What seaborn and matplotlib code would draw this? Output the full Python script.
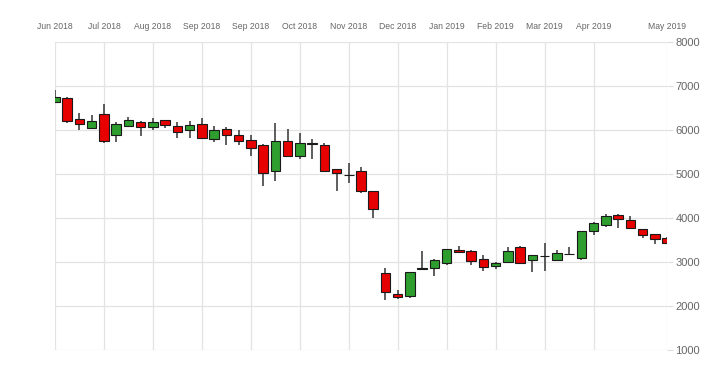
import numpy as np
import pandas as pd
import matplotlib
matplotlib.use("Agg")
import matplotlib.pyplot as plt
import seaborn as sns

# weekly OHLC, Jun 2018 - May 2019
weeks = list(range(51))
opens = [6650, 6740, 6265, 6050, 6365, 5900, 6105, 6195, 6065, 6225,
         6090, 6005, 6135, 5810, 6030, 5895, 5775, 5660, 5075, 5755,
         5425, 5700, 5660, 5110, 4990, 5070, 4615, 2750, 2280, 2240,
         2845, 2880, 2980, 3290, 3265, 3070, 2920, 3015, 3340, 3045,
         3142, 3050, 3182, 3090, 3720, 3855, 4075, 3960, 3750, 3645, 3560]
closes = [6750, 6220, 6135, 6220, 5750, 6135, 6240, 6080, 6180, 6120,
          5970, 6115, 5825, 6005, 5885, 5755, 5590, 5030, 5755, 5410,
          5705, 5712, 5080, 5030, 4982, 4620, 4205, 2320, 2210, 2785,
          2862, 3045, 3300, 3230, 3035, 2900, 2990, 3255, 2995, 3165,
          3152, 3220, 3192, 3710, 3900, 4060, 3985, 3775, 3630, 3525, 3445]
highs = [6920, 6760, 6390, 6350, 6600, 6180, 6300, 6210, 6290, 6240,
         6180, 6210, 6275, 6090, 6075, 6005, 5890, 5680, 6175, 6025,
         5930, 5800, 5710, 5120, 5250, 5175, 4620, 2865, 2370, 2790,
         3260, 3080, 3310, 3365, 3270, 3155, 3000, 3340, 3365, 3170,
         3445, 3280, 3355, 3720, 3905, 4090, 4090, 4045, 3760, 3650, 3570]
lows = [6640, 6160, 6010, 6040, 5720, 5730, 6070, 5880, 6010, 6060,
        5820, 5830, 5810, 5730, 5660, 5660, 5420, 4730, 4855, 5385,
        5340, 5355, 5070, 4630, 4795, 4570, 4010, 2140, 2170, 2200,
        2830, 2690, 2940, 3220, 2940, 2810, 2840, 2980, 2990, 2780,
        2800, 3020, 3170, 3050, 3630, 3810, 3785, 3765, 3545, 3410, 3435]

tick_pos = [0, 4, 8, 12, 16, 20, 24, 28, 32, 36, 40, 44, 50]
tick_labels = ["Jun 2018", "Jul 2018", "Aug 2018", "Sep 2018", "Sep 2018",
               "Oct 2018", "Nov 2018", "Dec 2018", "Jan 2019", "Feb 2019",
               "Mar 2019", "Apr 2019", "May 2019"]
y_ticks = [1000, 2000, 3000, 4000, 5000, 6000, 7000, 8000]

df = pd.DataFrame({"week": weeks, "open": opens, "close": closes,
                   "high": highs, "low": lows})
df["up"] = df["close"] >= df["open"]
df["bottom"] = df[["open", "close"]].min(axis=1)
df["body"] = (df["close"] - df["open"]).abs().clip(lower=4)

sns.set_theme(style="whitegrid")
plt.rcParams["font.family"] = ["Liberation Sans", "DejaVu Sans"]

fig = plt.figure(figsize=(7.24, 3.79), dpi=100)
ax = fig.add_axes([55 / 724, 1 - 350.3 / 379, 612 / 724, 308 / 379])

ax.vlines(df["week"], df["low"], df["high"], color="#333333", lw=1.1, zorder=2)
colors = np.where(df["up"], "#2e9e2e", "#e60000")
ax.bar(df["week"], df["body"], bottom=df["bottom"], width=0.78,
       color=colors, edgecolor="#1a1a1a", linewidth=0.8, zorder=3)

ax.set_xlim(0, 50)
ax.set_ylim(1000, 8000)
ax.set_xticks(tick_pos)
ax.set_xticklabels(tick_labels)
ax.set_yticks(y_ticks)
ax.xaxis.tick_top()
ax.yaxis.tick_right()
ax.tick_params(axis="x", labelsize=6.2, colors="#666666", length=0, pad=8)
ax.tick_params(axis="y", labelsize=8, colors="#666666", length=4.5, pad=1.5,
               color="#dddddd", width=0.8)
ax.grid(True, color="#e3e3e3", lw=0.9)
for s in ax.spines.values():
    s.set_visible(False)
ax.set_xlabel("")
ax.set_ylabel("")

fig.savefig("out.png", dpi=100)
